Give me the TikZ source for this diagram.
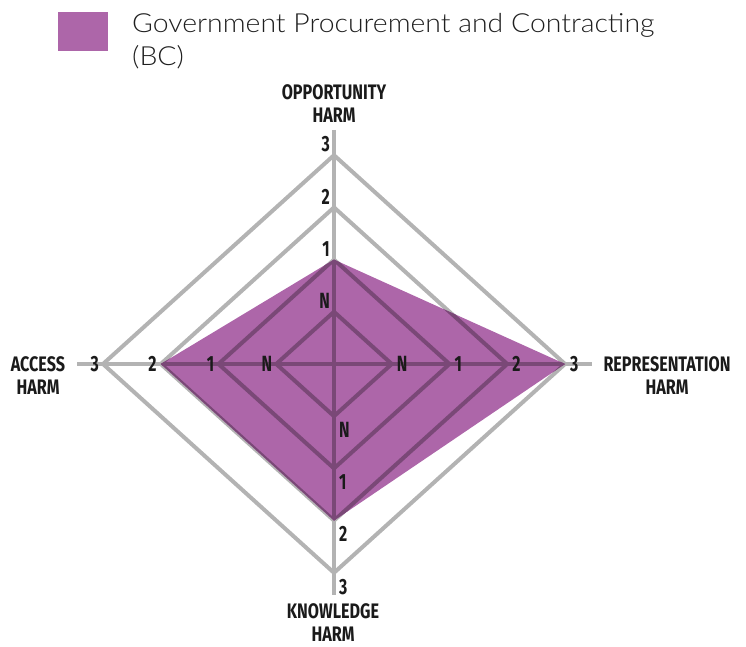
\documentclass[tikz,border=0pt]{standalone}
\usepackage{fontspec}
\setmainfont{Lato}
\newfontfamily\legfont[FakeStretch=1.08]{Lato Light}
\newfontfamily\condf[FakeStretch=0.72]{Fira Sans}
\newfontfamily\condt[FakeStretch=0.77]{Fira Sans}
\definecolor{gridgray}{HTML}{B3B3B3}
\definecolor{fillpurple}{HTML}{AD66A9}
\definecolor{darkline}{HTML}{7A4877}
\definecolor{legtxt}{HTML}{1F1F1F}
\definecolor{labtxt}{HTML}{1A1A1A}
\tikzset{
  gridline/.style={draw=gridgray, line width=4pt, line join=miter},
  innerline/.style={draw=darkline, line width=4pt, line join=miter},
  tick/.style={inner sep=0pt, text=labtxt, font=\condf\bfseries\fontsize{22}{24}\selectfont},
  axtitle/.style={inner sep=0pt, text=labtxt, align=center, font=\condt\bfseries\fontsize{21}{23}\selectfont},
  legtext/.style={inner sep=0pt, text=legtxt, font=\legfont\fontsize{26.3}{34}\selectfont, anchor=base west}
}
\begin{document}
\begin{tikzpicture}[x=1pt,y=1pt]
\useasboundingbox (0,0) rectangle (746,647);
% legend
\fill[fillpurple] (58,596) rectangle (108,635);
\node[legtext] (leg1) at (132,614) {Government Procurement and Contracting};
\node[legtext] (leg2) at (132,581) {(BC)};
\begin{scope}[shift={(334,283)}]
  \def\sx{57.75}
  \def\sy{52.2}
  % grid
  \foreach \k in {1,2,3,4}{
    \draw[gridline] (0,\k*\sy) -- (\k*\sx,0) -- (0,-\k*\sy) -- (-\k*\sx,0) -- cycle;
  }
  \draw[gridline] (0,234) -- (0,-231);
  \draw[gridline] (-257,0) -- (258,0);
  % data polygon
  \fill[fillpurple] (0,2*\sy) -- (4*\sx,0) -- (0,-3*\sy) -- (-3*\sx,0) -- cycle;
  \begin{scope}
    \clip (0,2*\sy) -- (4*\sx,0) -- (0,-3*\sy) -- (-3*\sx,0) -- cycle;
    \foreach \k in {1,2,3,4}{
      \draw[innerline] (0,\k*\sy) -- (\k*\sx,0) -- (0,-\k*\sy) -- (-\k*\sx,0) -- cycle;
    }
    \draw[innerline] (0,234) -- (0,-231);
    \draw[innerline] (-257,0) -- (258,0);
  \end{scope}
  % tick labels
  \foreach \k/\t in {1/N,2/1,3/2,4/3}{
    \node[tick, anchor=south east] (top\k) at (-4,\k*\sy+3) {\t};
    \node[tick, anchor=north west] (bot\k) at (5,-\k*\sy-6) {\t};
    \node[tick, anchor=west] (right\k) at (\k*\sx+5,0) {\t};
    \node[tick, anchor=east] (left\k) at (-\k*\sx-4,0) {\t};
  }
  % axis titles
  \node[axtitle, anchor=north] (opp) at (0,280) {OPPORTUNITY\\HARM};
  \node[axtitle, anchor=north] (acc) at (-296,8) {ACCESS\\HARM};
  \node[axtitle, anchor=north] (rep) at (333,8) {REPRESENTATION\\HARM};
  \node[axtitle, anchor=north] (kno) at (-1,-239) {KNOWLEDGE\\HARM};
\end{scope}
\end{tikzpicture}
\end{document}
